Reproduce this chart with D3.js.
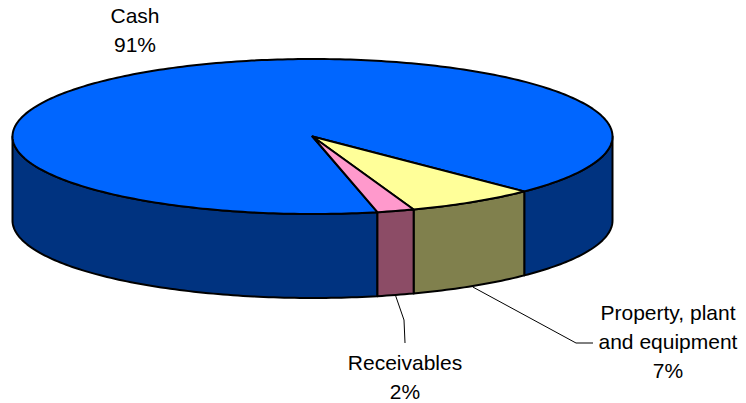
<!DOCTYPE html>
<html>
<head>
<meta charset="utf-8">
<title>Assets</title>
<script src="https://d3js.org/d3.v7.min.js"></script>
<style>
  body { margin: 0; background: #fff; }
  text { font-family: "Liberation Sans", Arial, sans-serif; font-size: 21px; fill: #000; }
</style>
</head>
<body>
<svg width="746" height="403"></svg>
<script>
// data, clockwise from the start angle
var categories = ["Cash", "Property, plant and equipment", "Receivables"];
var values = [91, 7, 2];
var labelLines = [["Cash"], ["Property, plant", "and equipment"], ["Receivables"]];
var topColors = ["#0066ff", "#ffff99", "#ff99cc"];
var sideColors = ["#003380", "#80804d", "#8c4c66"];

// layout
var cx = 312.5, cy = 136.5, rx = 300, ry = 77.5, depth = 84;
var startDeg = 167.5;
var lineH = 29;
var labelPos = [
  {x: 135, y: 23},
  {x: 668, y: 320},
  {x: 405, y: 370}
];
// leader line points after the rim point (null = no leader)
var leaders = [null, [[576, 343], [593, 343]], [[404, 320], [405, 343]]];

var svg = d3.select("svg");
var rad = Math.PI / 180;

function proj(a, dz) {
  return [cx + rx * Math.sin(a), cy - ry * Math.cos(a) + dz];
}
function arcPts(a0, a1, dz) {
  var n = Math.max(2, Math.ceil(Math.abs(a1 - a0) / rad));
  var pts = [];
  for (var i = 0; i <= n; i++) pts.push(proj(a0 + (a1 - a0) * i / n, dz));
  return pts;
}

var pie = d3.pie().sort(null)
  .startAngle(startDeg * rad)
  .endAngle(startDeg * rad + 2 * Math.PI);
var arcs = pie(values);

var line = d3.line();
var pct = d3.format(".0%");
var total = d3.sum(values);

// side walls (front half only)
var walls = [];
arcs.forEach(function(d, i) {
  [-1, 0, 1].forEach(function(k) {
    var lo = Math.PI / 2 + k * 2 * Math.PI, hi = 3 * Math.PI / 2 + k * 2 * Math.PI;
    var a0 = Math.max(d.startAngle, lo), a1 = Math.min(d.endAngle, hi);
    if (a1 > a0) {
      var pts = arcPts(a0, a1, 0).concat(arcPts(a1, a0, depth));
      walls.push({i: i, pts: pts});
    }
  });
});

svg.append("g").selectAll("path")
  .data(walls)
  .join("path")
  .attr("d", function(w) { return line(w.pts) + "Z"; })
  .attr("fill", function(w) { return sideColors[w.i]; })
  .attr("stroke", "#000")
  .attr("stroke-width", 2)
  .attr("stroke-linejoin", "round");

// top faces
svg.append("g").selectAll("path")
  .data(arcs)
  .join("path")
  .attr("d", function(d) {
    return line([[cx, cy]].concat(arcPts(d.startAngle, d.endAngle, 0))) + "Z";
  })
  .attr("fill", function(d, i) { return topColors[i]; })
  .attr("stroke", "#000")
  .attr("stroke-width", 2)
  .attr("stroke-linejoin", "round");

// leader lines
arcs.forEach(function(d, i) {
  if (!leaders[i]) return;
  var mid = (d.startAngle + d.endAngle) / 2;
  var p = proj(mid, depth);
  svg.append("path")
    .attr("d", line([[p[0], p[1] + 1]].concat(leaders[i])))
    .attr("fill", "none")
    .attr("stroke", "#000")
    .attr("stroke-width", 1);
});

// labels
arcs.forEach(function(d, i) {
  var lines = labelLines[i].concat([pct(values[i] / total)]);
  var t = svg.append("text")
    .attr("text-anchor", "middle")
    .attr("x", labelPos[i].x)
    .attr("y", labelPos[i].y);
  lines.forEach(function(s, j) {
    t.append("tspan")
      .attr("x", labelPos[i].x)
      .attr("dy", j === 0 ? 0 : lineH)
      .text(s);
  });
});
</script>
</body>
</html>
